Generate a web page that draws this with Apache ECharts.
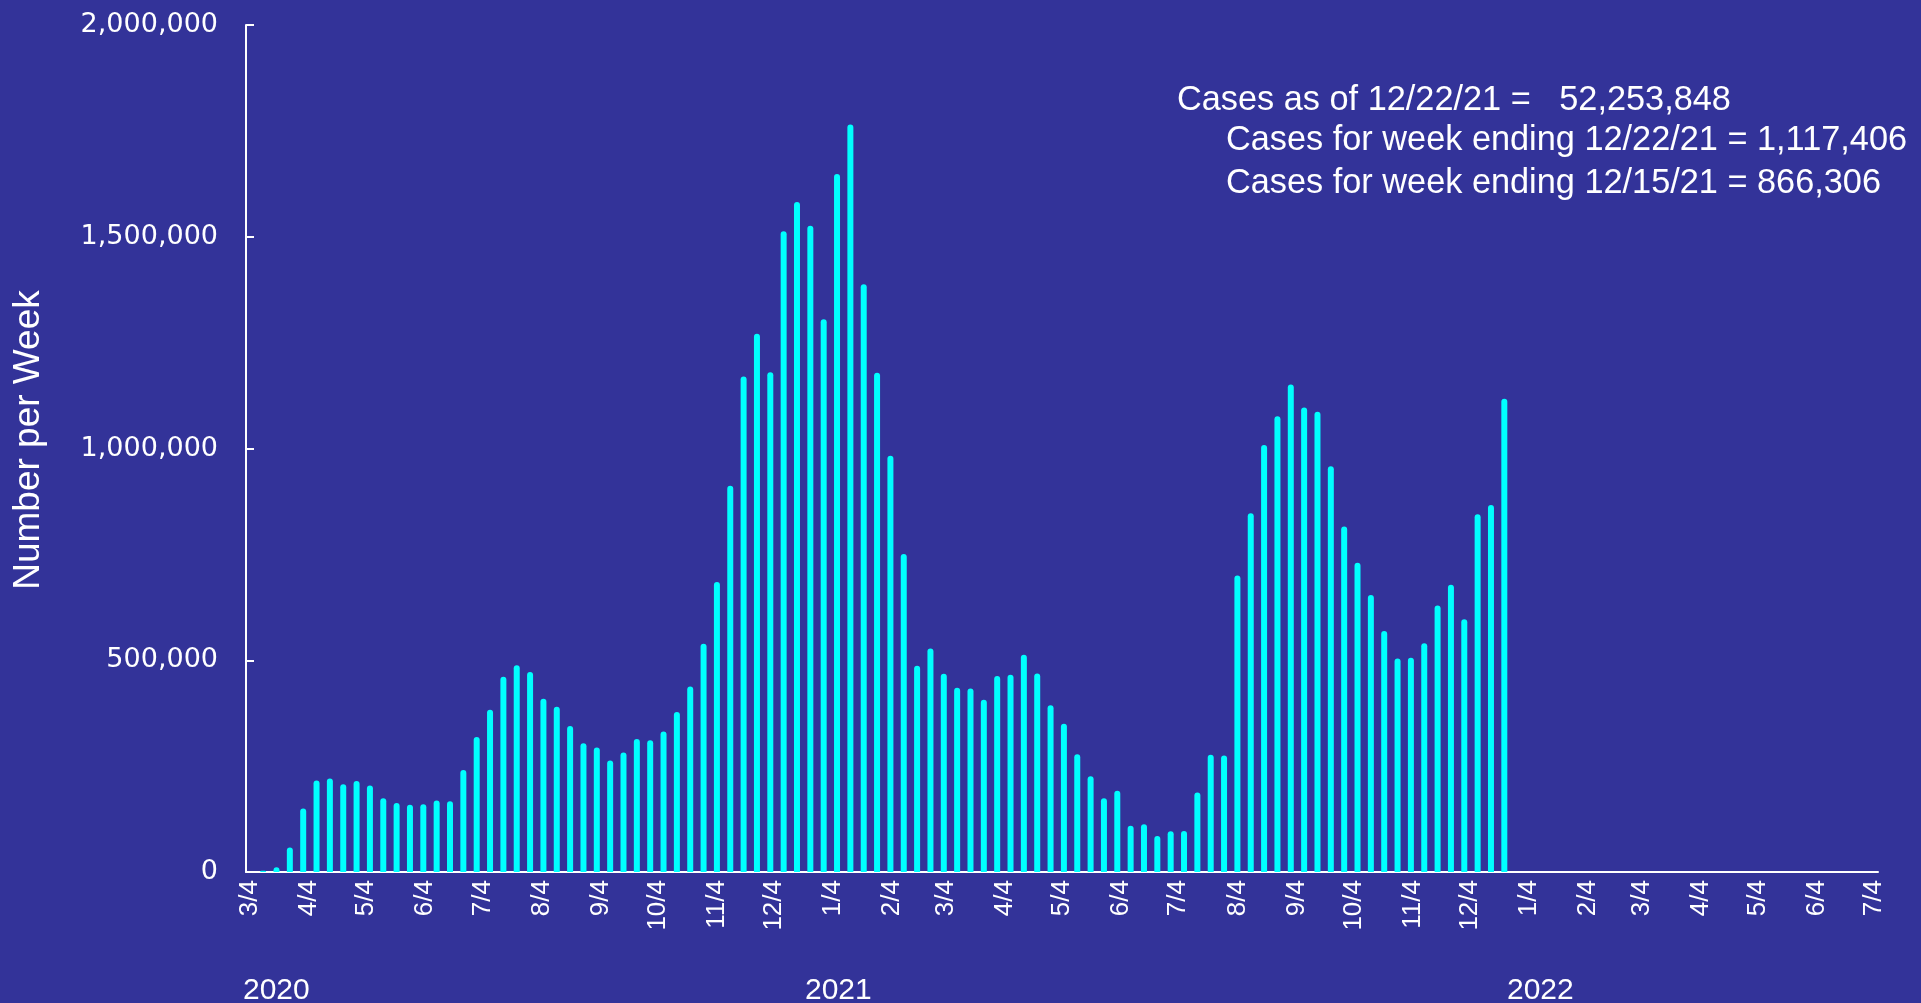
<!DOCTYPE html>
<html>
<head>
<meta charset="utf-8">
<title>Number per Week</title>
<script src="https://cdn.jsdelivr.net/npm/echarts@6/dist/echarts.min.js"></script>
<style>
  html, body { margin: 0; padding: 0; background: #333399; }
  #chart { width: 1921px; height: 1003px; }
</style>
</head>
<body>
<div id="chart"></div>
<script>
// weekly cases, first bar = week ending 3/11/20, last = 12/22/21
const firstWeekEnding = [2020, 3, 11];
const weeklyCases = [
  3000, 11000, 58000, 150000, 216000, 221000, 207000, 215000, 204000, 174000,
  163000, 159000, 160000, 169000, 167000, 241000, 319000, 383000, 461000, 488000,
  472000, 409000, 390000, 345000, 304000, 294000, 263000, 282000, 314000, 311000,
  332000, 378000, 438000, 539000, 685000, 912000, 1170000, 1271000, 1180000, 1513000,
  1582000, 1526000, 1305000, 1648000, 1765000, 1388000, 1179000, 983000, 751000, 487000,
  528000, 468000, 435000, 433000, 407000, 463000, 466000, 513000, 469000, 394000,
  350000, 278000, 226000, 174000, 192000, 109000, 113000, 85000, 96000, 97000,
  188000, 277000, 275000, 700000, 847000, 1008000, 1076000, 1151000, 1097000, 1087000,
  958000, 816000, 730000, 654000, 569000, 504000, 506000, 540000, 629000, 678000,
  597000, 845000, 866306, 1117406
];
const monthTicks = [
  '2020-03-04', '2020-04-04', '2020-05-04', '2020-06-04', '2020-07-04', '2020-08-04',
  '2020-09-04', '2020-10-04', '2020-11-04', '2020-12-04', '2021-01-04', '2021-02-04',
  '2021-03-04', '2021-04-04', '2021-05-04', '2021-06-04', '2021-07-04', '2021-08-04',
  '2021-09-04', '2021-10-04', '2021-11-04', '2021-12-04', '2022-01-04', '2022-02-04',
  '2022-03-04', '2022-04-04', '2022-05-04', '2022-06-04', '2022-07-04'
];
const yearLabels = ['2020', '2021', '2022'];
const noteLines = [
  'Cases as of 12/22/21 =   52,253,848',
  'Cases for week ending 12/22/21 = 1,117,406',
  'Cases for week ending 12/15/21 = 866,306'
];

function toDate(s) {
  const p = s.split('-').map(Number);
  return new Date(p[0], p[1] - 1, p[2]).getTime();
}
const weekDates = weeklyCases.map((_, i) =>
  new Date(firstWeekEnding[0], firstWeekEnding[1] - 1, firstWeekEnding[2] + 7 * i).getTime());
const tickValues = monthTicks.map(toDate);

const chart = echarts.init(document.getElementById('chart'), null, { renderer: 'canvas' });
const white = '#ffffff';
const sans = 'Liberation Sans';
const noteFont = '34.3px "Liberation Sans"';
const yearFont = '30px "Liberation Sans"';

chart.setOption({
  backgroundColor: '#333399',
  animation: false,
  grid: { left: 246, right: 43, top: 25, bottom: 131 },
  xAxis: {
    type: 'value',
    min: toDate('2020-03-02'),
    max: toDate('2022-07-06'),
    axisLine: { show: true, lineStyle: { color: white, width: 2 } },
    axisTick: { show: false },
    splitLine: { show: false },
    axisLabel: {
      customValues: tickValues,
      rotate: 90,
      margin: 8,
      color: white,
      fontFamily: sans,
      fontSize: 26,
      hideOverlap: false,
      formatter: (v) => { const d = new Date(v); return (d.getMonth() + 1) + '/' + d.getDate(); }
    }
  },
  yAxis: {
    type: 'value',
    min: 0,
    max: 2000000,
    interval: 500000,
    axisLine: { show: true, lineStyle: { color: white, width: 2 } },
    axisTick: { show: true, inside: true, length: 8, lineStyle: { color: white, width: 2 } },
    splitLine: { show: false },
    axisLabel: {
      color: white,
      fontFamily: 'DejaVu Sans',
      fontSize: 27,
      margin: 28,
      formatter: (v) => v.toLocaleString('en-US')
    }
  },
  series: [{
    type: 'bar',
    data: weekDates.map((d, i) => [d, weeklyCases[i]]),
    barWidth: 6,
    itemStyle: { color: '#00ffff', borderRadius: [3, 3, 0, 0] }
  }],
  graphic: [
    {
      type: 'text', x: 29, y: 440, rotation: Math.PI / 2,
      style: { text: 'Number per Week', fill: white, font: '37px "Liberation Sans"', textAlign: 'center', textVerticalAlign: 'middle' }
    },
    { type: 'text', left: 1177, top: 84, style: { text: noteLines[0], fill: white, font: noteFont } },
    { type: 'text', left: 1226, top: 124, style: { text: noteLines[1], fill: white, font: noteFont } },
    { type: 'text', left: 1226, top: 167, style: { text: noteLines[2], fill: white, font: noteFont } },
    { type: 'text', left: 243, top: 976, style: { text: yearLabels[0], fill: white, font: yearFont } },
    { type: 'text', left: 805, top: 976, style: { text: yearLabels[1], fill: white, font: yearFont } },
    { type: 'text', left: 1507, top: 976, style: { text: yearLabels[2], fill: white, font: yearFont } }
  ]
});
</script>
</body>
</html>
